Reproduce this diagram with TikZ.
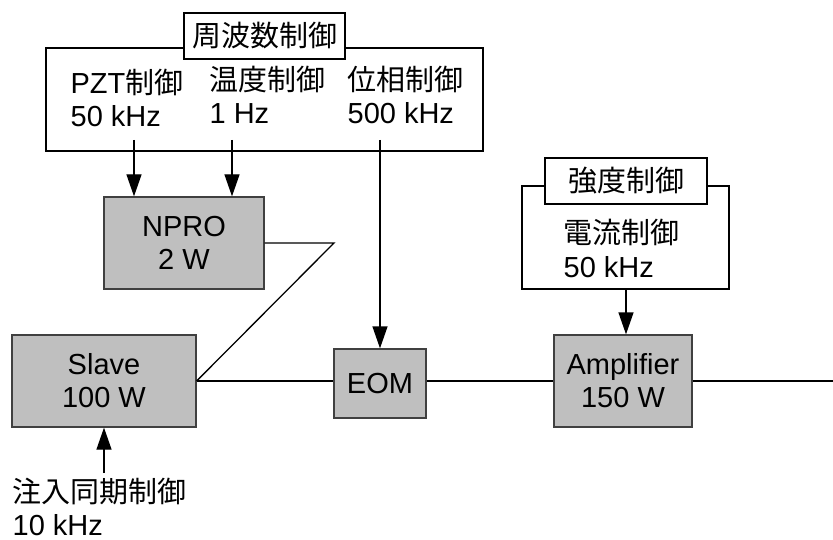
\documentclass[tikz,border=0pt]{standalone}
\usepackage{fontspec}
\setmainfont{Liberation Sans}
\newfontfamily\jp{Noto Sans CJK JP}
\usetikzlibrary{arrows.meta}
\newcommand{\ctrl}{{\jp 制御}}

\begin{document}
\begin{tikzpicture}[
x=1pt, y=-1pt, >={Triangle[length=22pt,width=15pt]}, line width=1.3pt,
font=\fontsize{29}{33}\selectfont,
frame/.style={draw, inner sep=0pt, minimum height=103pt},
title/.style={draw, fill=white, inner sep=0pt, minimum height=46pt},
unit/.style={draw=black!75, fill=black!25, inner sep=0pt, align=center},
lbl/.style={inner sep=0pt, anchor=base west, align=left}
]
\useasboundingbox (0,0) rectangle (833,540);
% control frames
\node[frame, minimum width=437pt] (freq) at (264.5,99.5) {};
\node[title, minimum width=161pt] (freqtitle) at (264.5,36) {\jp 周波数\ctrl};
\node[frame, minimum width=207pt] (power) at (625.5,237.5) {};
\node[title, minimum width=162pt] (powertitle) at (626,181) {\jp 強度\ctrl};
\node[lbl] (pzt) at (70,127) {PZT\ctrl\\50 kHz};
\node[lbl] (temp) at (209,124) {{\jp 温度}\ctrl\\1 Hz};
\node[lbl] (phase) at (347,124) {{\jp 位相}\ctrl\\500 kHz};
\node[lbl] (current) at (563,277) {{\jp 電流}\ctrl\\50 kHz};
\node[lbl] (inject) at (12,535) {{\jp 注入同期}\ctrl\\10 kHz};
% laser chain
\node[unit, minimum width=160pt, minimum height=92pt] (npro) at (184,243) {NPRO\\2 W};
\node[unit, minimum width=184pt, minimum height=92pt] (slave) at (104,381) {Slave\\100 W};
\node[unit, minimum width=92pt, minimum height=69pt] (eom) at (380,383.5) {EOM};
\node[unit, minimum width=138pt, minimum height=92pt] (amp) at (623,381) {Amplifier\\150 W};
\coordinate (pztout) at (134,140);
\coordinate (tempout) at (232,140);
\coordinate (phaseout) at (380,140);
\coordinate (injin) at (104,473);
\coordinate (bend) at (334,243);
\coordinate (out) at (833,381);
\draw[->] (pztout) -- (pztout |- npro.north);
\draw[->] (tempout) -- (tempout |- npro.north);
\draw[->] (phaseout) -- (eom.north);
\draw[->] (power.south -| 626,0) -- (626,0 |- amp.north);
\draw[->] (injin) -- (slave.south);
\draw (npro.east) -- (bend) -- (slave.east);
\draw (slave.east) -- (eom.west |- slave.east);
\draw (eom.east |- amp.west) -- (amp.west);
\draw (amp.east) -- (out);
\end{tikzpicture}
\end{document}
